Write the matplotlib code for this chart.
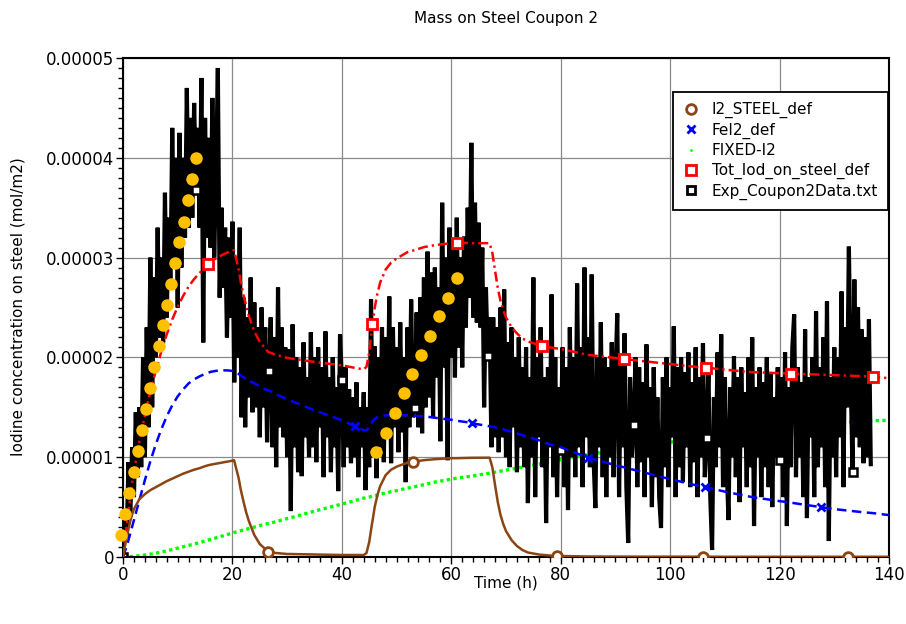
import numpy as np
import matplotlib
matplotlib.use("Agg")
import matplotlib.pyplot as plt
from matplotlib.lines import Line2D

# ---------------- data ----------------
# model time grid (h)
model_t = [0, 0.3, 0.5, 1, 1.5, 2, 3, 4, 5, 6, 7, 8, 9, 10, 11, 12, 13, 14, 15, 15.5,
           16, 17, 18, 19, 20, 20.3, 21, 21.1, 21.5, 22, 22.5, 23, 24, 25, 26, 26.5, 27, 28, 30, 30.5,
           35, 40, 42.4, 44, 44.5, 45, 45.5, 45.6, 46, 46.5, 47, 48, 49, 50, 52, 53, 55, 57, 60, 61,
           63, 63.7, 67, 67.5, 68, 68.5, 69, 69.5, 70, 71, 72, 73, 74, 76, 76.5, 78, 79.3, 80, 85, 90,
           91.5, 95, 100, 105, 106, 106.3, 106.5, 110, 115, 120, 122, 125, 127.6, 130, 132.5, 135, 137, 140]

# I2_STEEL_def (1e-5 mol/m2)
i2_steel = [0, 0.09, 0.15, 0.28, 0.40, 0.48, 0.58, 0.63, 0.67, 0.70,
            0.73, 0.76, 0.785, 0.81, 0.835, 0.855, 0.875, 0.89, 0.91, 0.918,
            0.925, 0.935, 0.945, 0.955, 0.965, 0.97, 0.82, 0.80, 0.68, 0.56,
            0.45, 0.36, 0.22, 0.13, 0.08, 0.05, 0.045, 0.04, 0.03, 0.03,
            0.025, 0.02, 0.02, 0.02, 0.04, 0.15, 0.33, 0.36, 0.50, 0.62,
            0.71, 0.82, 0.875, 0.905, 0.945, 0.955, 0.97, 0.98, 0.99, 0.99,
            0.993, 0.994, 0.995, 0.90, 0.72, 0.55, 0.42, 0.33, 0.26, 0.17,
            0.11, 0.07, 0.045, 0.025, 0.022, 0.015, 0.01, 0.01, 0.005, 0.004,
            0.004, 0.003, 0.003, 0.003, 0.003, 0.003, 0.003, 0.002, 0.002, 0.002,
            0.002, 0.002, 0.002, 0.002, 0.002, 0.002, 0.002, 0.002]

# FeI2_def (1e-5 mol/m2)
fei2 = [0, 0.05, 0.08, 0.17, 0.27, 0.37, 0.57, 0.77, 0.96, 1.13,
        1.28, 1.41, 1.52, 1.61, 1.68, 1.74, 1.78, 1.81, 1.835, 1.845,
        1.855, 1.865, 1.87, 1.87, 1.865, 1.86, 1.84, 1.835, 1.82, 1.80,
        1.79, 1.77, 1.74, 1.71, 1.68, 1.67, 1.66, 1.63, 1.58, 1.57,
        1.47, 1.37, 1.31, 1.27, 1.27, 1.30, 1.35, 1.36, 1.38, 1.40,
        1.41, 1.42, 1.42, 1.42, 1.42, 1.415, 1.41, 1.395, 1.375, 1.365,
        1.35, 1.34, 1.31, 1.305, 1.30, 1.29, 1.285, 1.28, 1.27, 1.255,
        1.24, 1.22, 1.205, 1.17, 1.16, 1.13, 1.11, 1.10, 0.995, 0.92,
        0.90, 0.85, 0.78, 0.715, 0.705, 0.70, 0.70, 0.655, 0.60, 0.56,
        0.545, 0.52, 0.50, 0.48, 0.465, 0.45, 0.44, 0.42]

# FIXED-I2 (1e-5 mol/m2)
fixed_i2 = [0, 0.0, 0.001, 0.003, 0.005, 0.008, 0.013, 0.02, 0.028, 0.038,
            0.05, 0.062, 0.075, 0.088, 0.102, 0.116, 0.13, 0.145, 0.16, 0.168,
            0.176, 0.192, 0.208, 0.224, 0.24, 0.245, 0.255, 0.257, 0.263, 0.27,
            0.278, 0.285, 0.30, 0.315, 0.33, 0.335, 0.34, 0.355, 0.385, 0.39,
            0.46, 0.53, 0.565, 0.59, 0.595, 0.60, 0.61, 0.61, 0.615, 0.62,
            0.63, 0.64, 0.655, 0.665, 0.69, 0.70, 0.725, 0.75, 0.78, 0.79,
            0.805, 0.81, 0.84, 0.845, 0.85, 0.855, 0.86, 0.865, 0.87, 0.88,
            0.89, 0.90, 0.91, 0.93, 0.935, 0.955, 0.97, 0.975, 1.025, 1.07,
            1.08, 1.11, 1.15, 1.185, 1.19, 1.19, 1.195, 1.22, 1.25, 1.28,
            1.29, 1.31, 1.325, 1.34, 1.35, 1.36, 1.365, 1.37]

# marker times of the model curves
i2_mark_t = [26.5, 53, 79.3, 106, 132.5]
fei2_mark_t = [42.4, 63.7, 85, 106.3, 127.6]
tot_mark_t = [15.5, 45.6, 61, 76.5, 91.5, 106.5, 122, 137]

# Exp_Coupon2Data.txt, one sample every 20 min (units 1e-7 mol/m2)
exp_vals = [
    0, 45, 20, 95, 40, 110, 60, 145, 80, 150,
    90, 200, 100, 230, 130, 300, 150, 280, 200, 330,
    220, 300, 215, 365, 240, 340, 270, 430, 300, 400,
    250, 425, 290, 400, 320, 470, 330, 440, 340, 455,
    368, 430, 330, 480, 215, 440, 320, 420, 310, 460,
    300, 380, 490, 260, 350, 270, 330, 220, 320, 240,
    336, 175, 300, 200, 330, 140, 260, 130, 240, 160,
    280, 145, 255, 150, 230, 120, 250, 150, 230, 115,
    186, 240, 110, 220, 90, 270, 130, 230, 120, 210,
    100, 208, 46, 233, 110, 200, 85, 190, 81, 215,
    120, 180, 100, 225, 110, 200, 95, 210, 130, 190,
    80, 226, 120, 180, 85, 200, 110, 170, 66, 223,
    177, 90, 190, 110, 168, 94, 160, 100, 175, 80,
    150, 110, 165, 67, 150, 90, 258, 100, 211, 79,
    200, 110, 230, 95, 220, 120, 261, 94, 230, 130,
    210, 105, 235, 125, 200, 75, 230, 130, 258, 140,
    149, 245, 130, 260, 124, 280, 150, 306, 160, 285,
    140, 290, 180, 270, 116, 355, 190, 300, 97, 330,
    200, 310, 180, 340, 210, 300, 190, 321, 230, 350,
    260, 415, 240, 355, 235, 335, 230, 310, 150, 270,
    201, 240, 110, 240, 120, 230, 105, 250, 120, 268,
    100, 215, 90, 230, 130, 200, 85, 220, 110, 190,
    90, 210, 54, 180, 100, 280, 60, 200, 120, 230,
    90, 180, 34, 190, 110, 263, 80, 200, 60, 170,
    107, 210, 70, 190, 47, 230, 100, 200, 80, 274,
    110, 210, 70, 290, 120, 220, 90, 283, 100, 49,
    200, 110, 235, 80, 200, 60, 190, 100, 215, 80,
    180, 244, 60, 200, 110, 224, 70, 14, 180, 100,
    132, 200, 70, 190, 95, 175, 60, 213, 100, 170,
    50, 190, 80, 160, 60, 29, 180, 90, 200, 70,
    170, 120, 231, 60, 190, 90, 200, 75, 185, 110,
    205, 70, 175, 95, 210, 60, 180, 100, 214, 80,
    119, 190, 60, 7, 160, 90, 205, 110, 223, 70,
    180, 90, 37, 170, 100, 201, 80, 180, 55, 190,
    110, 165, 70, 200, 90, 220, 31, 170, 100, 190,
    60, 175, 90, 200, 70, 185, 50, 160, 100, 190,
    97, 180, 60, 205, 31, 170, 90, 210, 243, 80,
    190, 100, 175, 60, 228, 39, 180, 120, 200, 60,
    246, 90, 190, 110, 220, 70, 256, 16, 180, 100,
    210, 80, 200, 120, 266, 70, 230, 150, 311, 180,
    85, 278, 120, 250, 110, 228, 94, 220, 100, 238, 93]
exp_step_h = 1.0 / 3.0

# orange reference points (1e-5 mol/m2)
dots1_t = [-0.4, 0.36, 1.16, 1.95, 2.73, 3.41, 4.2, 4.92, 5.72, 6.5,
           7.29, 8.02, 8.75, 9.55, 10.28, 11.06, 11.79, 12.58, 13.38]
dots1_v = [0.22, 0.43, 0.64, 0.85, 1.06, 1.27, 1.48, 1.69, 1.90, 2.11,
           2.32, 2.53, 2.74, 2.95, 3.16, 3.36, 3.58, 3.79, 4.00]
dots2_t = [46.3, 48.0, 49.7, 51.3, 52.9, 54.5, 56.1, 57.8, 59.4, 61.1]
dots2_v = [1.05, 1.24, 1.44, 1.64, 1.83, 2.02, 2.21, 2.41, 2.60, 2.80]

title = "Mass on Steel Coupon 2"
xlabel = "Time (h)"
ylabel = "Iodine concentration on steel (mol/m2)"
ytick_vals = [0, 1e-5, 2e-5, 3e-5, 4e-5, 5e-5]
ytick_labels = ["0", "0.00001", "0.00002", "0.00003", "0.00004", "0.00005"]
xtick_vals = [0, 20, 40, 60, 80, 100, 120, 140]
legend_labels = ["I2_STEEL_def", "FeI2_def", "FIXED-I2", "Tot_Iod_on_steel_def", "Exp_Coupon2Data.txt"]

# ---------------- plot ----------------
plt.rcParams['font.family'] = ['DejaVu Sans']
fig = plt.figure(figsize=(9.06, 6.24), dpi=100)
ax = fig.add_axes([123 / 906, 1 - 557 / 624, 766 / 906, 499 / 624])

mt = np.array(model_t)
b = np.array(i2_steel) * 1e-5
f = np.array(fei2) * 1e-5
g = np.array(fixed_i2) * 1e-5
tot = b + f + g

brown = '#8B4513'
ax.plot(mt, g, color='#00FF00', lw=2.4, ls=(0, (1, 1)), zorder=1.5)

et = np.arange(len(exp_vals)) * exp_step_h
ev = np.array(exp_vals) * 1e-7
ax.plot(et, ev, color='black', lw=3.0, marker='s', markersize=5.5, mfc='white',
        mec='black', mew=1.8, markevery=40, zorder=2, solid_joinstyle='miter')

ax.plot(mt, f, color='#0000FF', lw=1.8, ls=(0, (3.8, 2.2)), marker='x', markersize=6, mew=2,
        markevery=[model_t.index(x) for x in fei2_mark_t], zorder=3)
ax.plot(mt, tot, color='#FF0000', lw=1.8, ls=(0, (4.0, 1.6, 0.9, 1.6)), marker='s', markersize=6.5,
        mfc='white', mec='#FF0000', mew=2, markevery=[model_t.index(x) for x in tot_mark_t], zorder=3)
ax.plot(mt, b, color=brown, lw=1.8, marker='o', markersize=7, mfc='white', mec=brown, mew=2,
        markevery=[model_t.index(x) for x in i2_mark_t], zorder=3.5)

for dt, dv in ((dots1_t, dots1_v), (dots2_t, dots2_v)):
    ax.plot(dt, np.array(dv) * 1e-5, ls='none', marker='o', markersize=8, color='#FFC000',
            mec='#FFC000', zorder=5, clip_on=False)

ax.set_xlim(0, 140)
ax.set_ylim(0, 5e-5)
ax.set_xticks(xtick_vals)
ax.set_xticks(np.arange(0, 141, 2), minor=True)
ax.set_yticks(ytick_vals)
ax.set_yticklabels(ytick_labels)
ax.set_yticks(np.arange(0, 5.01e-5, 1e-6), minor=True)
ax.tick_params(which='major', direction='out', length=5, width=1, labelsize=12, pad=1.5,
               top=False, right=False)
ax.tick_params(which='minor', direction='out', length=3.5, width=1, top=False, right=False)
ax.grid(True, which='major', color='#8a8a8a', lw=0.9)
ax.set_axisbelow(True)
for s in ax.spines.values():
    s.set_linewidth(1.5)

fig.text(0.5 * (123 + 889) / 906, 1 - 18 / 624, title, ha='center', va='center', fontsize=11)
fig.text(0.5 * (123 + 889) / 906, 1 - 583 / 624, xlabel, ha='center', va='center', fontsize=11)
fig.text(18 / 906, 1 - 307 / 624, ylabel, ha='center', va='center', fontsize=11, rotation=90)

handles = [
    Line2D([], [], ls='none', marker='o', markersize=7, mfc='white', mec=brown, mew=2),
    Line2D([], [], ls='none', marker='x', markersize=6, color='#0000FF', mew=2),
    Line2D([], [], ls='none', marker='.', markersize=2, color='#00FF00'),
    Line2D([], [], ls='none', marker='s', markersize=6.5, mfc='white', mec='#FF0000', mew=2),
    Line2D([], [], ls='none', marker='s', markersize=6, mfc='white', mec='black', mew=2),
]
leg = ax.legend(handles, legend_labels, loc='upper right', bbox_to_anchor=(0.999, 0.932),
                borderaxespad=0, fontsize=11, frameon=True, fancybox=False, framealpha=1,
                edgecolor='black', handlelength=1.0, handletextpad=0.9, labelspacing=0.3,
                borderpad=0.65)
leg.get_frame().set_linewidth(1.3)
leg.set_zorder(10)

fig.savefig('out.png', dpi=100)
